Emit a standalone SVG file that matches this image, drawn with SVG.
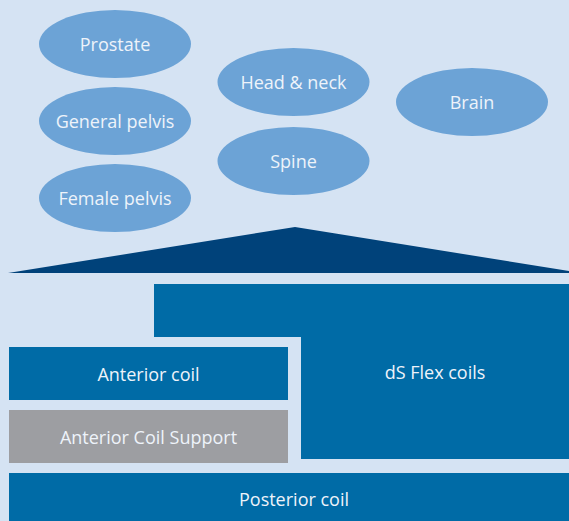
<svg xmlns="http://www.w3.org/2000/svg" width="569" height="521" viewBox="0 0 569 521">
<style>
.bg{fill:#D5E3F3}
.ell{fill:#6CA3D6}
.blk{fill:#006BA6}
.gray{fill:#9D9EA2}
.roof{fill:#00427A}
text{font-family:"Open Sans","Liberation Sans",sans-serif;font-size:18px;fill:#EEF3FA;text-anchor:middle;dominant-baseline:central}
</style>
<rect class="bg" x="0" y="0" width="569" height="521"/>
<g id="prostate"><ellipse class="ell" cx="115" cy="44" rx="76" ry="34"/><text x="115" y="44">Prostate</text></g>
<g id="general-pelvis"><ellipse class="ell" cx="115" cy="121" rx="76" ry="34"/><text x="115" y="121">General pelvis</text></g>
<g id="female-pelvis"><ellipse class="ell" cx="115" cy="198" rx="76" ry="34"/><text x="115" y="198">Female pelvis</text></g>
<g id="head-neck"><ellipse class="ell" cx="293.5" cy="82" rx="76" ry="34"/><text x="293.5" y="82">Head &amp; neck</text></g>
<g id="spine"><ellipse class="ell" cx="293.5" cy="161" rx="76" ry="34"/><text x="293.5" y="161">Spine</text></g>
<g id="brain"><ellipse class="ell" cx="472" cy="102" rx="76" ry="34"/><text x="472" y="102">Brain</text></g>
<g id="roof"><polygon class="roof" points="8,273 295,227 569,271 569,273"/></g>
<g id="ds-flex"><path class="blk" d="M154,284 H569 V459 H301 V337 H154 Z"/><text x="435" y="372">dS Flex coils</text></g>
<g id="anterior-coil"><rect class="blk" x="9" y="347" width="279" height="53"/><text x="148.5" y="374">Anterior coil</text></g>
<g id="anterior-coil-support"><rect class="gray" x="9" y="410" width="279" height="53"/><text x="148.5" y="437">Anterior Coil Support</text></g>
<g id="posterior-coil"><rect class="blk" x="9" y="473" width="560" height="48"/><text x="294" y="499">Posterior coil</text></g>
</svg>
